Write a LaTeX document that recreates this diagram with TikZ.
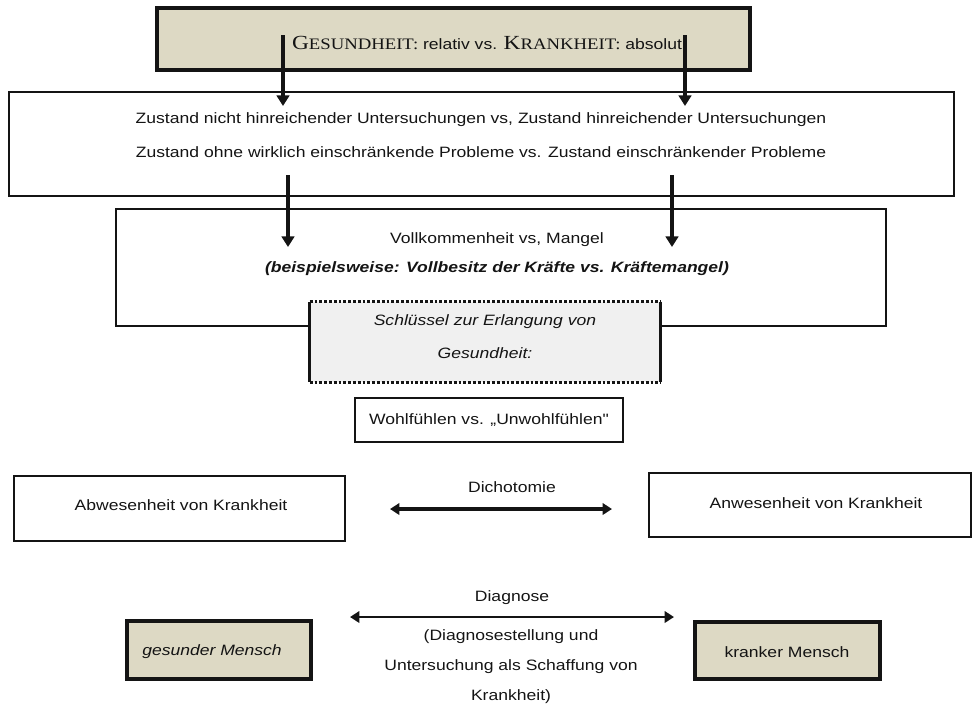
\documentclass[tikz,border=0pt]{standalone}
\usepackage{fontspec}
\setmainfont{Liberation Sans}[FakeStretch=1.17]
\newfontfamily\capsfont{Liberation Serif}[FakeStretch=1.17]
\newfontfamily\plainsans{Liberation Sans}[FakeStretch=1.17]
\usetikzlibrary{arrows.meta}

% small capitals built from a large initial and smaller capitals
\newcommand\mysc[2]{{\capsfont\fontsize{15pt}{15pt}\selectfont #1}{\capsfont\fontsize{12pt}{12pt}\selectfont #2}}

\definecolor{beige}{RGB}{221,217,196}
\definecolor{keygray}{RGB}{240,240,240}
\definecolor{ink}{RGB}{20,20,20}

\begin{document}
\begin{tikzpicture}[x=0.75pt,y=-0.75pt,
  every node/.style={text=ink},
  box/.style={draw=ink, line width=1.1pt, inner sep=0pt, fill=white},
  heavybox/.style={draw=ink, line width=2.4pt, inner sep=0pt, fill=beige},
  txt/.style={inner sep=0pt, font=\fontsize{11.25pt}{13pt}\selectfont},
  downarrow/.style={draw=ink, line width=2.4pt, -{Triangle[width=9.5pt,length=8pt]}},
  twoway/.style={draw=ink, line width=2.4pt, {Triangle[width=8.5pt,length=7pt]}-{Triangle[width=8.5pt,length=7pt]}},
  keyedge/.style={draw=ink, line width=2.4pt, dash pattern=on 2.2pt off 1.4pt},
  keyside/.style={draw=ink, line width=2.4pt}
]
\useasboundingbox (0,0) rectangle (974,708);

% boxes
\node[heavybox, line width=3pt, minimum width=444.75pt, minimum height=46.5pt] (top) at (453.5,39) {};
\node[box, minimum width=708.75pt, minimum height=78pt] (state) at (481.5,144) {};
\node[box, minimum width=577.5pt, minimum height=87.75pt] (perfect) at (501,267.5) {};
\node[inner sep=0pt, fill=keygray, minimum width=262.5pt, minimum height=60pt] (key) at (485,342) {};
\draw[keyedge] (key.north west) -- (key.north east);
\draw[keyedge] (key.south west) -- (key.south east);
\draw[keyside] (key.north west) -- (key.south west);
\draw[keyside] (key.north east) -- (key.south east);
\node[box, minimum width=201pt, minimum height=33pt] (well) at (489,420) {};
\node[box, minimum width=248.25pt, minimum height=48.75pt] (absent) at (179.5,508.5) {};
\node[box, minimum width=241.5pt, minimum height=48pt] (present) at (810,505) {};
\node[heavybox, minimum width=138pt, minimum height=43.5pt] (healthy) at (219,650) {};
\node[heavybox, minimum width=138.75pt, minimum height=42.75pt] (sick) at (787.5,650.5) {};

% texts
\node[txt] (title) at (487,43) {\mysc{G}{ESUNDHEIT:} relativ vs. \mysc{K}{RANKHEIT:} absolut};
\node[txt] (s1) at (481,120) {Zustand nicht hinreichender Untersuchungen vs, Zustand hinreichender Untersuchungen};
\node[txt] (s2) at (481,152) {Zustand ohne wirklich einschränkende Probleme vs. Zustand einschränkender Probleme};
\node[txt] (p1) at (497,240) {Vollkommenheit vs, Mangel};
\node[txt, font=\fontsize{11.25pt}{13pt}\selectfont\bfseries\itshape] (p2) at (497,269) {(beispielsweise: Vollbesitz der Kräfte vs. Kräftemangel)};
\node[txt, font=\fontsize{11.25pt}{13pt}\selectfont\itshape] (k1) at (485,322) {Schlüssel zur Erlangung von};
\node[txt, font=\fontsize{11.25pt}{13pt}\selectfont\itshape] (k2) at (485,353) {Gesundheit:};
\node[txt] (wt) at (489,420) {Wohlfühlen vs. „Unwohlfühlen{\plainsans"}};
\node[txt] (dich) at (512,487) {Dichotomie};
\node[txt] (at) at (181,505) {Abwesenheit von Krankheit};
\node[txt] (pt) at (816,503) {Anwesenheit von Krankheit};
\node[txt] (diag) at (512,598) {Diagnose};
\node[txt] (d1) at (511,637) {(Diagnosestellung und};
\node[txt] (d2) at (511,667) {Untersuchung als Schaffung von};
\node[txt] (d3) at (511,697) {Krankheit)};
\node[txt, anchor=west, font=\fontsize{11.25pt}{13pt}\selectfont\itshape] (ht) at (142,652) {gesunder Mensch};
\node[txt] (st) at (787,652) {kranker Mensch};

% arrow end points
\coordinate (a1s) at (283,35);  \coordinate (a1e) at (283,106);
\coordinate (a2s) at (685,35);  \coordinate (a2e) at (685,106);
\coordinate (a3s) at (288,175); \coordinate (a3e) at (288,247);
\coordinate (a4s) at (672,175); \coordinate (a4e) at (672,247);
\coordinate (dl) at (390,509);  \coordinate (dr) at (612,509);
\coordinate (gl) at (350,617);  \coordinate (gr) at (674,617);

\draw[downarrow] (a1s) -- (a1e);
\draw[downarrow] (a2s) -- (a2e);
\draw[downarrow] (a3s) -- (a3e);
\draw[downarrow] (a4s) -- (a4e);
\draw[twoway] (dl) -- (dr);
\draw[twoway, line width=1.9pt] (gl) -- (gr);
\end{tikzpicture}
\end{document}
